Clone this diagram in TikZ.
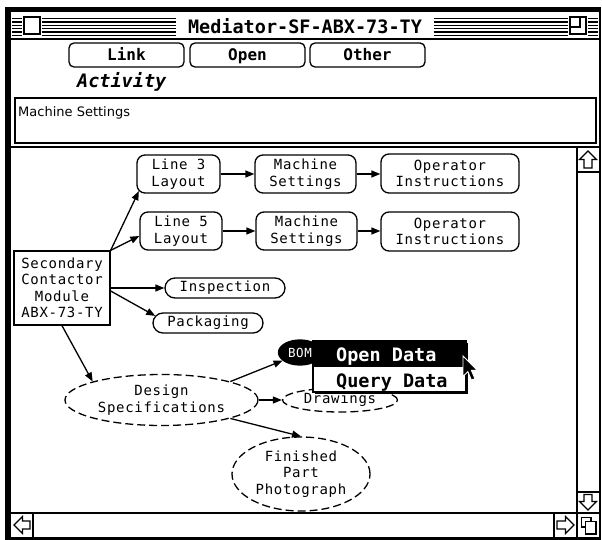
\documentclass[tikz,border=0pt]{standalone}
\usepackage{fontspec}
\usetikzlibrary{arrows.meta,shapes.geometric,calc}
\newfontfamily\mynodefont[LetterSpace=5]{DejaVu Sans Mono}
\newfontfamily\mychifont{DejaVu Sans Mono}
\newfontfamily\myuifont{DejaVu Sans}
\newcommand\myNF{\mynodefont\fontsize{14}{16.5}\selectfont}
\newcommand\myCF[1]{\mychifont\bfseries\fontsize{#1}{#1}\selectfont}
\begin{document}
\begin{tikzpicture}[x=1pt,y=-1pt,
  ln/.style={line width=1.3pt},
  btn/.style={draw,line width=1.3pt,rounded corners=5pt,minimum width=115pt,minimum height=24pt,inner sep=0pt,text height=12pt,text depth=0pt,font=\myCF{16}},
  rr/.style={draw,line width=1.3pt,rounded corners=8pt,inner sep=0pt,align=center,font=\myNF},
  pill/.style={draw,line width=1.3pt,rounded corners=10pt,inner sep=0pt,minimum height=20pt,font=\myNF},
  sq/.style={draw,line width=1.3pt,inner sep=0pt,align=center,font=\myNF},
  ell/.style={ellipse,draw,line width=1.3pt,dash pattern=on 8pt off 4pt,inner sep=0pt,align=center,font=\myNF},
  arr/.style={-{Triangle[length=9pt,width=7pt]},line width=1.3pt},
  stripe/.style={line width=1.4pt},
  icon/.style={draw,line width=1.2pt,fill=white,line join=miter}
]
\useasboundingbox (0,0) rectangle (602,540);
% window frame
\fill[black] (5,7) rectangle (600.5,540);
\fill[white] (11,12) rectangle (598.5,537);
% title bar stripes
\foreach \yy in {18.5,21.9,25.3,28.7,32.1,35.5}{
  \draw[stripe] (12,\yy) -- (22,\yy);
  \draw[stripe] (42,\yy) -- (176,\yy);
  \draw[stripe] (434,\yy) -- (568,\yy);
  \draw[stripe] (588,\yy) -- (598,\yy);
}
\draw[line width=1.3pt,fill=white] (24,17) rectangle (40,34);
\draw[line width=1.3pt,fill=white] (570,17) rectangle (586,34);
\draw[line width=1.3pt] (570,27) -- (580,27) -- (580,17);
\node[font=\myCF{18.5}] (title) at (305,26) {Mediator-SF-ABX-73-TY};
\draw[line width=1.8pt] (11,39) -- (598.5,39);
% buttons
\node[btn] (link) at (126.5,55) {Link};
\node[btn] (open) at (247.5,55) {Open};
\node[btn] (other) at (367.5,55) {Other};
\node[font=\mychifont\bfseries\itshape\fontsize{18.5}{18.5}\selectfont,anchor=base west,inner sep=0pt] (act) at (77,87.5) {Activity};
% text box
\draw[ln] (15,98) rectangle (596,143);
\node[font=\myuifont\fontsize{13}{15}\selectfont,anchor=base west,inner sep=0pt] (mstxt) at (18,117) {Machine Settings};
\draw[line width=1.5pt] (11,147) -- (598.5,147);
% scrollbars
\draw[ln] (577,147) -- (577,537);
\draw[ln] (11,513) -- (598.5,513);
\draw[ln] (577,172) -- (598.5,172);
\draw[ln] (577,492) -- (598.5,492);
\draw[ln] (33,513) -- (33,537);
\draw[ln] (554,513) -- (554,537);
\draw[icon] (588,151) -- (596.5,159.5) -- (592,159.5) -- (592,168) -- (584,168) -- (584,159.5) -- (579.5,159.5) -- cycle;
\draw[icon] (588,510) -- (596.5,501.5) -- (592,501.5) -- (592,494.5) -- (584,494.5) -- (584,501.5) -- (579.5,501.5) -- cycle;
\draw[icon] (14,525) -- (22.5,516.5) -- (22.5,521) -- (30,521) -- (30,529) -- (22.5,529) -- (22.5,533.5) -- cycle;
\draw[icon] (574,525) -- (565.5,516.5) -- (565.5,521) -- (557,521) -- (557,529) -- (565.5,529) -- (565.5,533.5) -- cycle;
\draw[icon] (581.5,517.5) rectangle (591,527);
\draw[icon] (585.5,521.5) rectangle (596,534);
% diagram nodes
\node[sq,minimum width=96pt,minimum height=74pt] (scm) at (62,288) {Secondary\\Contactor\\Module\\ABX-73-TY};
\node[rr,minimum width=83pt,minimum height=38pt] (l3) at (178.5,174) {Line 3\\Layout};
\node[rr,minimum width=82pt,minimum height=38pt] (l5) at (181,231) {Line 5\\Layout};
\node[rr,minimum width=101pt,minimum height=38pt] (ms1) at (305.5,174) {Machine\\Settings};
\node[rr,minimum width=101pt,minimum height=38pt] (ms2) at (306.5,231) {Machine\\Settings};
\node[rr,minimum width=138pt,minimum height=39pt] (oi1) at (450,173.5) {Operator\\Instructions};
\node[rr,minimum width=138pt,minimum height=39pt] (oi2) at (450,231.5) {Operator\\Instructions};
\node[pill,minimum width=120pt] (insp) at (225,288) {Inspection};
\node[pill,minimum width=110pt] (pack) at (208,323) {Packaging};
\node[ell,minimum width=193pt,minimum height=51pt] (ds) at (161.5,400) {Design\\Specifications};
\node[ellipse,fill=black,draw=black,line width=1.3pt,inner sep=0pt,minimum width=43pt,minimum height=25pt,text=white,font=\mynodefont\fontsize{12.5}{14}\selectfont] (bom) at (300,352.5) {BOM};
\node[ell,minimum width=115pt,minimum height=24pt] (drw) at (340,400) {Drawings};
\node[ell,minimum width=138pt,minimum height=74pt] (fpp) at (301,474) {Finished\\Part\\Photograph};
% connectors
\draw[arr] (scm.north east) -- ($(l3.south west)+(2.5,-2.5)$);
\draw[arr] (scm.north east) -- ($(l5.west)+(0,5)$);
\draw[arr] (scm.east) -- (insp.west);
\draw[arr] ($(scm.east)+(0,3)$) -- ($(pack.west)+(2.9,-7.1)$);
\draw[arr] (scm.south) -- (ds.165);
\draw[arr] (l3.east) -- (ms1.west);
\draw[arr] (ms1.east) -- (oi1.west |- ms1.east);
\draw[arr] (l5.east) -- (ms2.west);
\draw[arr] (ms2.east) -- (oi2.west |- ms2.east);
\draw[arr] (ds.15) -- (bom.205);
\draw[arr] (ds.east) -- (drw.west);
\draw[arr] (ds.-15) -- (fpp.north);
% popup menu
\fill[black] (315,343) rectangle (468,394);
\draw[ln,fill=white] (313,341) rectangle (466,392);
\fill[black] (313,341) rectangle (466,367);
\node[font=\myCF{18.5},text=white,anchor=base west,inner sep=0pt] (opend) at (336,361.5) {Open Data};
\node[font=\myCF{18.5},anchor=base west,inner sep=0pt] (query) at (336,387) {Query Data};
% cursor
\begin{scope}[shift={(463,356)},scale=1.2]
\draw[fill=black,draw=white,line width=0.9pt,line join=miter] (0,0) -- (0,17) -- (4,13) -- (7,20) -- (10,19) -- (7,12) -- (12,12) -- cycle;
\end{scope}
\end{tikzpicture}
\end{document}
